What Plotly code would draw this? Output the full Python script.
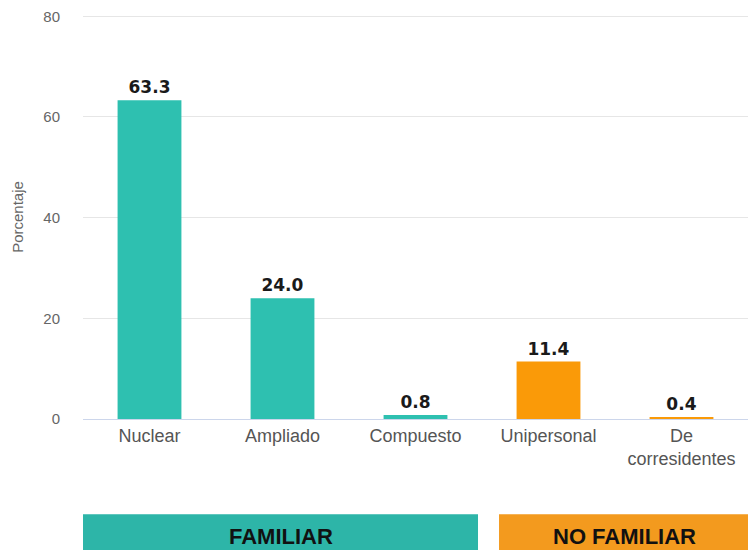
import plotly.graph_objects as go

categories = ["Nuclear", "Ampliado", "Compuesto", "Unipersonal", "De<br>corresidentes"]
values = [63.3, 24.0, 0.8, 11.4, 0.4]
labels = ["63.3", "24.0", "0.8", "11.4", "0.4"]
groups = ["FAMILIAR", "FAMILIAR", "FAMILIAR", "NO FAMILIAR", "NO FAMILIAR"]
y_ticks = [0, 20, 40, 60, 80]

color_map = {"FAMILIAR": "#2EC0B0", "NO FAMILIAR": "#FA9A08"}
bar_colors = [color_map[g] for g in groups]

fig = go.Figure()
fig.add_trace(go.Bar(
    x=categories, y=values, text=labels, textposition="outside",
    marker=dict(color=bar_colors, line=dict(width=0)),
    textfont=dict(family="DejaVu Sans", size=17, color="#1a1a1a", weight="bold"),
    cliponaxis=False, hoverinfo="x+y",
))

fig.update_layout(
    width=748, height=550,
    margin=dict(l=83, r=0, t=15, b=131),
    paper_bgcolor="white", plot_bgcolor="white",
    bargap=0.52, showlegend=False,
    font=dict(family="Liberation Sans, Arial", color="#555"),
    xaxis=dict(
        tickfont=dict(size=18, color="#555"), showgrid=False,
        showline=True, linecolor="#ccd6eb", linewidth=1, ticks="",
    ),
    yaxis=dict(
        range=[0, 80.25], tickvals=y_ticks, showgrid=True, gridcolor="#e6e6e6",
        zeroline=False, tickfont=dict(size=15, color="#666"),
        ticklabelstandoff=22, ticklabeloverflow="allow",
        title=dict(text="Porcentaje", font=dict(size=15, color="#666"), standoff=16),
    ),
    shapes=[
        dict(type="rect", xref="paper", yref="paper", x0=0, x1=0.594, y0=-0.33, y1=-0.236,
             fillcolor="#2DB5A8", line=dict(width=0)),
        dict(type="rect", xref="paper", yref="paper", x0=0.6256, x1=1.0, y0=-0.33, y1=-0.236,
             fillcolor="#F39A1E", line=dict(width=0)),
    ],
    annotations=[
        dict(text="<b>FAMILIAR</b>", xref="paper", yref="paper", x=0.297, y=-0.29,
             xanchor="center", yanchor="middle",
             showarrow=False, font=dict(size=22, color="#111", family="Liberation Sans, Arial")),
        dict(text="<b>NO FAMILIAR</b>", xref="paper", yref="paper", x=0.814, y=-0.29,
             xanchor="center", yanchor="middle",
             showarrow=False, font=dict(size=22, color="#111", family="Liberation Sans, Arial")),
    ],
)

# remove the page's default 8px body margin so the figure sits at the window origin
fig.write_html("out.html", config={"displayModeBar": False},
               post_script="document.body.style.margin='0';")
